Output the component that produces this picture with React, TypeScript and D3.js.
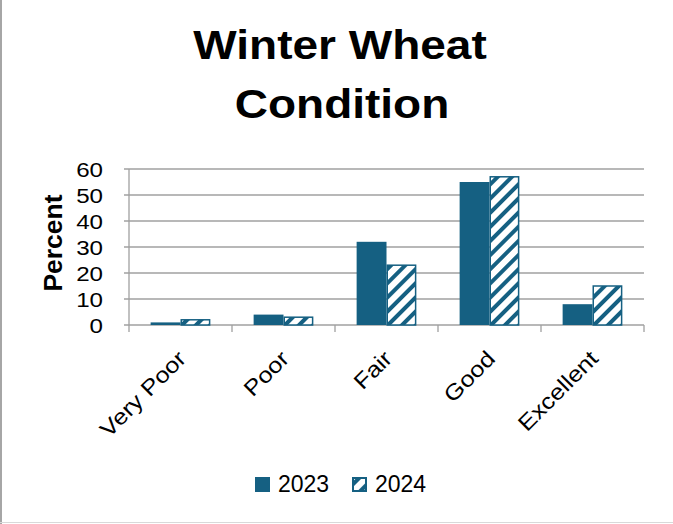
import * as d3 from "d3";

const categories = ["Very Poor", "Poor", "Fair", "Good", "Excellent"];
const series = ["2023", "2024"];
const values2023 = [1, 4, 32, 55, 8];
const values2024 = [2, 3, 23, 57, 15];
const yTicks = [0, 10, 20, 30, 40, 50, 60];

const W = 673;
const H = 524;
const blue = "#156082";
const font = "'Liberation Sans', Arial, sans-serif";
// the source font runs a bit wider than Arial
const wide = 1.15;

export default function App() {
  const margin = { top: 169, right: 29, bottom: 199, left: 129 };
  const x = d3
    .scaleBand()
    .domain(categories)
    .range([margin.left, W - margin.right])
    .paddingInner(0.42)
    .paddingOuter(0.21);
  const xs = d3.scaleBand().domain(series).range([0, x.bandwidth()]);
  const y = d3.scaleLinear().domain([0, 60]).range([H - margin.bottom, margin.top]);
  const step = x.step();
  const x0 = margin.left;
  const x1 = W - margin.right;

  const rows = categories.map((c, i) => ({ c, v: [values2023[i], values2024[i]] }));

  return (
    <svg
      width={W}
      height={H}
      style={{ position: "absolute", left: 0, top: 0, background: "#fff" }}
      fontFamily={font}
    >
      <defs>
        <pattern
          id="hatch"
          width={10}
          height={10}
          patternUnits="userSpaceOnUse"
          patternTransform="rotate(45)"
        >
          <rect width={10} height={10} fill="#fff" />
          <rect width={4} height={10} fill={blue} />
        </pattern>
      </defs>
      <line x1={1} y1={0} x2={1} y2={H} stroke="#a6a6a6" strokeWidth={2} />
      <line x1={0} y1={522.5} x2={W} y2={522.5} stroke="#d9d9d9" strokeWidth={1} />

      <text transform={`translate(340,59) scale(${wide},1)`} textAnchor="middle" fontSize={40} fontWeight="bold">
        Winter Wheat
      </text>
      <text transform={`translate(342,118) scale(${wide},1)`} textAnchor="middle" fontSize={40} fontWeight="bold">
        Condition
      </text>

      {yTicks.map((t) => (
        <g key={t}>
          <line x1={x0 - 5} x2={x1} y1={y(t)} y2={y(t)} stroke="#a0a0a0" strokeWidth={1.3} />
          <text
            transform={`translate(103,${y(t)}) scale(${wide},1)`}
            dy="0.36em"
            textAnchor="end"
            fontSize={21}
          >
            {t}
          </text>
        </g>
      ))}
      <line x1={x0} x2={x0} y1={y(60)} y2={y(0)} stroke="#a0a0a0" strokeWidth={1.3} />
      {d3.range(categories.length + 1).map((i) => (
        <line
          key={i}
          x1={x0 + i * step}
          x2={x0 + i * step}
          y1={y(0)}
          y2={y(0) + 7}
          stroke="#a0a0a0"
          strokeWidth={1.3}
        />
      ))}

      <text
        transform={`translate(62,243) rotate(-90) scale(1.06,1)`}
        textAnchor="middle"
        fontSize={25}
        fontWeight="bold"
      >
        Percent
      </text>

      {rows.map((r) => (
        <g key={r.c} transform={`translate(${x(r.c)},0)`}>
          <rect
            x={xs("2023")}
            y={y(r.v[0])}
            width={xs.bandwidth()}
            height={y(0) - y(r.v[0])}
            fill={blue}
          />
          <rect
            x={xs("2024")! + 0.75}
            y={y(r.v[1])}
            width={xs.bandwidth() - 1.5}
            height={y(0) - y(r.v[1])}
            fill="url(#hatch)"
            stroke={blue}
            strokeWidth={1.5}
          />
        </g>
      ))}

      {categories.map((c) => {
        const cx = x(c)! + x.bandwidth() / 2 + 7;
        return (
          <text
            key={c}
            transform={`translate(${cx},360) rotate(-45) scale(${wide},1)`}
            textAnchor="end"
            fontSize={22}
          >
            {c}
          </text>
        );
      })}

      <rect x={255} y={477} width={15} height={15} fill={blue} />
      <text x={278} y={492} fontSize={23}>
        2023
      </text>
      <rect x={353} y={478} width={13} height={13} fill="url(#hatch)" stroke={blue} strokeWidth={2} />
      <text x={375} y={492} fontSize={23}>
        2024
      </text>
    </svg>
  );
}
